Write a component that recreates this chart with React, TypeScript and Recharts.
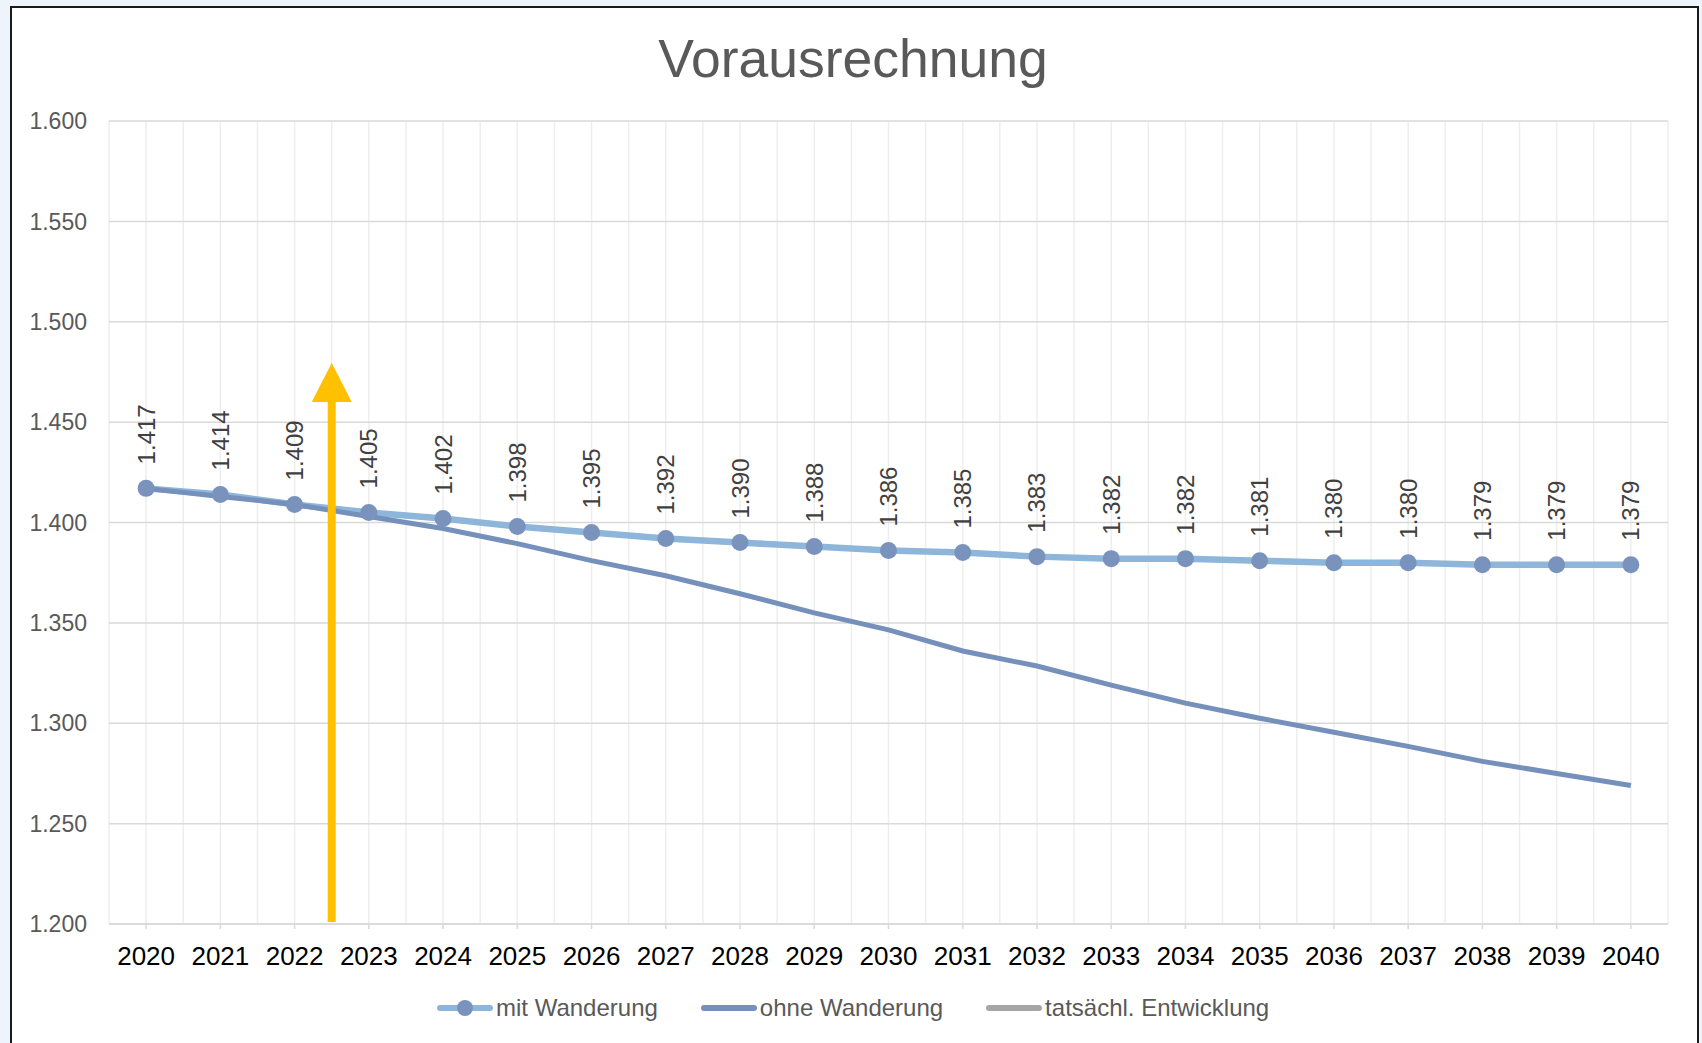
import { CartesianGrid, LabelList, Legend, Line, LineChart, ReferenceLine, XAxis, YAxis } from "recharts";

const years = [2020, 2021, 2022, 2023, 2024, 2025, 2026, 2027, 2028, 2029, 2030, 2031, 2032, 2033, 2034, 2035, 2036, 2037, 2038, 2039, 2040];

const mitWanderung = [1.417, 1.414, 1.409, 1.405, 1.402, 1.398, 1.395, 1.392, 1.39, 1.388, 1.386, 1.385, 1.383, 1.382, 1.382, 1.381, 1.38, 1.38, 1.379, 1.379, 1.379];

const ohneWanderung = [1.417, 1.413, 1.409, 1.403, 1.397, 1.3895, 1.381, 1.3735, 1.3645, 1.355, 1.3465, 1.336, 1.3285, 1.319, 1.31, 1.3025, 1.2955, 1.2885, 1.281, 1.275, 1.269];

const yTicks = [1.2, 1.25, 1.3, 1.35, 1.4, 1.45, 1.5, 1.55, 1.6];

// the yellow arrow marks the point between 2022 and 2023
const arrowYear = 2022.5;
const arrowTip = 1.4795;

const legendItems = [
  { name: "mit Wanderung", color: "#8DB6DA", dot: "#7A93BD" },
  { name: "ohne Wanderung", color: "#7590BB", dot: null },
  { name: "tatsächl. Entwicklung", color: "#A5A5A5", dot: null }
];

const data = years.map((year, i) => ({ year, mit: mitWanderung[i], ohne: ohneWanderung[i] }));
const gridX = years.flatMap((y) => [y - 0.5, y]).concat([years[years.length - 1] + 0.5]);

const font = "'Liberation Sans', Arial, sans-serif";

function RotatedLabel(props: any) {
  const { x, y, value } = props;
  const tx = x + 8.5;
  const ty = y - 24;
  return (
    <text x={tx} y={ty} transform={`rotate(-90 ${tx} ${ty})`} fill="#404040" fontSize={24} fontFamily={font} textAnchor="start">
      {Number(value).toFixed(3)}
    </text>
  );
}

function Arrow(props: any) {
  const { x1, y1, y2 } = props;
  const head = 39;
  return (
    <g>
      <line x1={x1} y1={y1 - 2} x2={x1} y2={y2 + head - 2} stroke="#FFC000" strokeWidth={8} />
      <polygon points={`${x1},${y2} ${x1 - 20},${y2 + head} ${x1 + 20},${y2 + head}`} fill="#FFC000" />
    </g>
  );
}

function LegendBox() {
  return (
    <div style={{ display: "flex", justifyContent: "flex-start", alignItems: "center", height: 36, fontFamily: font, fontSize: 24, color: "#595959", paddingLeft: 437 }}>
      {legendItems.map((item) => (
        <div key={item.name} style={{ display: "flex", alignItems: "center", marginRight: 43 }}>
          <svg width={56} height={20} style={{ marginRight: 3 }}>
            <line x1={3} y1={10} x2={53} y2={10} stroke={item.color} strokeWidth={6} strokeLinecap="round" />
            {item.dot && <circle cx={28} cy={10} r={8} fill={item.dot} />}
          </svg>
          <span>{item.name}</span>
        </div>
      ))}
    </div>
  );
}

export default function App() {
  return (
    <div style={{ position: "absolute", left: 0, top: 0, width: 1702, height: 1043, overflow: "hidden", background: "#EDF4FC" }}>
      <div style={{ position: "absolute", left: 10, top: 6, width: 1685, height: 1060, background: "#fff", border: "2px solid #1a1a1a" }} />
      <div style={{ position: "absolute", left: 0, top: 27, width: 1706, height: 64, lineHeight: "64px", textAlign: "center", fontFamily: font, fontSize: 53.5, color: "#595959" }}>
        Vorausrechnung
      </div>
      <div style={{ position: "absolute", left: 0, top: 0 }}>
        <LineChart width={1702} height={1043} data={data} margin={{ top: 121, right: 34, left: 29, bottom: 33 }}>
          <CartesianGrid horizontal={false} verticalValues={gridX} stroke="#EEEEEE" strokeWidth={1.5} />
          <CartesianGrid vertical={false} horizontalValues={yTicks} stroke="#D9D9D9" strokeWidth={1.5} />
          <XAxis
            dataKey="year"
            type="number"
            domain={[2019.5, 2040.5]}
            ticks={years}
            interval={0}
            stroke="#D9D9D9"
            strokeWidth={1.5}
            tickSize={5}
            tickMargin={18}
            height={50}
            tick={{ fill: "#000", fontSize: 26, fontFamily: font }}
          />
          <YAxis
            domain={[1.2, 1.6]}
            ticks={yTicks}
            width={80}
            axisLine={false}
            tickLine={false}
            tickSize={0}
            tickMargin={22}
            tickFormatter={(v: number) => v.toFixed(3)}
            tick={{ fill: "#595959", fontSize: 23, fontFamily: font }}
          />
          <Legend verticalAlign="bottom" content={() => <LegendBox />} wrapperStyle={{ top: 990, left: 0, width: 1702, height: 36 }} />
          <Line dataKey="mit" name="mit Wanderung" stroke="#8DB6DA" strokeWidth={6.5} dot={false} isAnimationActive={false} legendType="line" />
          <Line dataKey="ohne" name="ohne Wanderung" stroke="#7590BB" strokeWidth={5} dot={false} isAnimationActive={false} legendType="line" />
          <Line
            dataKey="mit"
            name="mit Wanderung Punkte"
            stroke="none"
            dot={{ r: 8.5, fill: "#7A93BD", stroke: "#7A93BD", strokeWidth: 0 }}
            isAnimationActive={false}
            legendType="none"
          >
            <LabelList dataKey="mit" content={<RotatedLabel />} />
          </Line>
          <ReferenceLine
            segment={[{ x: arrowYear, y: 1.2 }, { x: arrowYear, y: arrowTip }]}
            shape={(p: any) => <Arrow {...p} />}
          />
        </LineChart>
      </div>
    </div>
  );
}
